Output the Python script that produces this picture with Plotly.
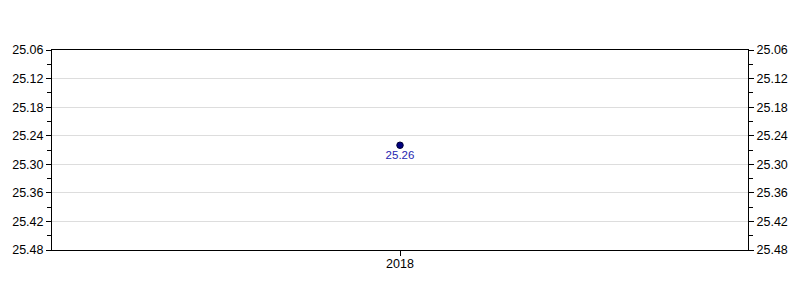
import plotly.graph_objects as go

categories = ["2018"]
values = [25.26]
labels = ["25.26"]
y_range = [25.48, 25.06]

fig = go.Figure()
fig.add_trace(go.Scatter(
    x=categories, y=values, mode="markers+text",
    text=labels, textposition="bottom center",
    textfont=dict(color="#2626b0", size=11.5, family="Liberation Sans, Arial"),
    marker=dict(color="#000080", size=6.5, line=dict(color="#000033", width=1)),
    showlegend=False, hoverinfo="x+y", cliponaxis=False,
))
fig.add_trace(go.Scatter(
    x=categories, y=values, yaxis="y2", mode="markers",
    marker=dict(opacity=0), showlegend=False, hoverinfo="skip",
))

axis_font = dict(family="Liberation Sans, Arial", size=12.5, color="#000")
yax = dict(
    range=y_range, tick0=25.06, dtick=0.06, tickformat=".2f",
    ticks="outside", ticklen=5, tickcolor="#000", tickwidth=1,
    showline=True, linecolor="#000", linewidth=1,
    showgrid=True, gridcolor="#dddddd", gridwidth=1, zeroline=False,
    tickfont=axis_font,
    minor=dict(dtick=0.03, tick0=25.06, ticks="outside", ticklen=4, tickcolor="#000", showgrid=False),
)
fig.update_layout(
    width=800, height=300,
    margin=dict(l=50, r=48, t=50, b=50),
    paper_bgcolor="white", plot_bgcolor="white",
    xaxis=dict(
        type="category", showline=True, linecolor="#000", linewidth=1, mirror=True,
        ticks="outside", ticklen=5, tickcolor="#000", showgrid=False,
        tickfont=axis_font, ticklabelstandoff=-3,
    ),
    yaxis=dict(**yax, side="left"),
    yaxis2=dict(**yax, side="right", overlaying="y", matches="y"),
)
fig.update_yaxes(selector=dict(side="right"), showgrid=False)
fig.write_html("out.html")
